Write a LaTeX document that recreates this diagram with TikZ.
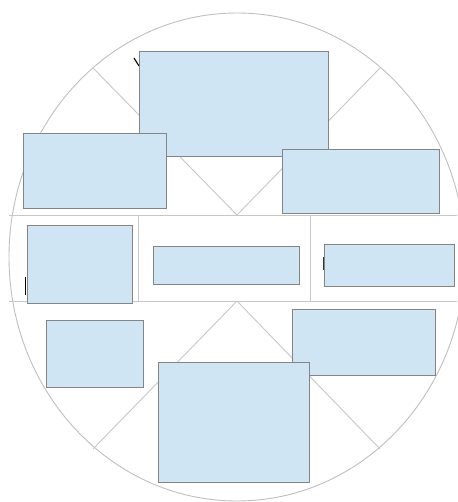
\documentclass[tikz,border=0pt]{standalone}
\begin{document}
\begin{tikzpicture}[x=1pt,y=-1pt,
  ring/.style={draw=black!25,line width=0.9pt},
  guide/.style={draw=black!22,line width=0.9pt},
  card/.style={draw=black!50,fill=cyan!8!blue!4!white,line width=0.8pt},
  frag/.style={draw=black,line width=1.1pt}]
\definecolor{cardfill}{HTML}{D0E5F3}
\tikzset{card/.style={draw=black!48,fill=cardfill,line width=0.8pt}}
\useasboundingbox (0,0) rectangle (457,502);
% outer ellipse
\draw[ring] (237,257) ellipse [x radius=228, y radius=244];
% structure
\coordinate (ul) at (93,68);
\coordinate (ur) at (380,68);
\coordinate (ta) at (237,215);
\coordinate (ba) at (237,301);
\coordinate (ll) at (93,449);
\coordinate (lr) at (380,449);
\draw[guide] (ul) -- (ta) -- (ur);
\draw[guide] (ll) -- (ba) -- (lr);
\draw[guide] (9,215) -- (457,215);
\draw[guide] (9,301) -- (457,301);
\draw[guide] (138,215) -- (138,301);
\draw[guide] (310,215) -- (310,301);
% hidden text fragments
\draw[frag] (134,58) -- (139,66);
\draw[black,line width=1.4pt] (25.5,277) -- (25.5,295);
\draw[black!80,line width=1.2pt] (323.5,257) -- (323.5,270);
% cards
\node[card,minimum width=189pt,minimum height=104.5pt,inner sep=0pt] (c1) at (234,103.75) {};
\node[card,minimum width=143pt,minimum height=74.3pt,inner sep=0pt] (c2) at (94.8,170.85) {};
\node[card,minimum width=156.3pt,minimum height=64.7pt,inner sep=0pt] (c3) at (360.85,181.35) {};
\node[card,minimum width=105pt,minimum height=78.3pt,inner sep=0pt] (c4) at (79.8,264.15) {};
\node[card,minimum width=146.7pt,minimum height=37.3pt,inner sep=0pt] (c5) at (226.35,265.35) {};
\node[card,minimum width=129.7pt,minimum height=42pt,inner sep=0pt] (c6) at (389.15,265) {};
\node[card,minimum width=97.4pt,minimum height=66.7pt,inner sep=0pt] (c7) at (95,353.65) {};
\node[card,minimum width=142.7pt,minimum height=66.7pt,inner sep=0pt] (c8) at (363.65,342.35) {};
\node[card,minimum width=150.6pt,minimum height=119.7pt,inner sep=0pt] (c9) at (234,422.15) {};
\end{tikzpicture}
\end{document}
